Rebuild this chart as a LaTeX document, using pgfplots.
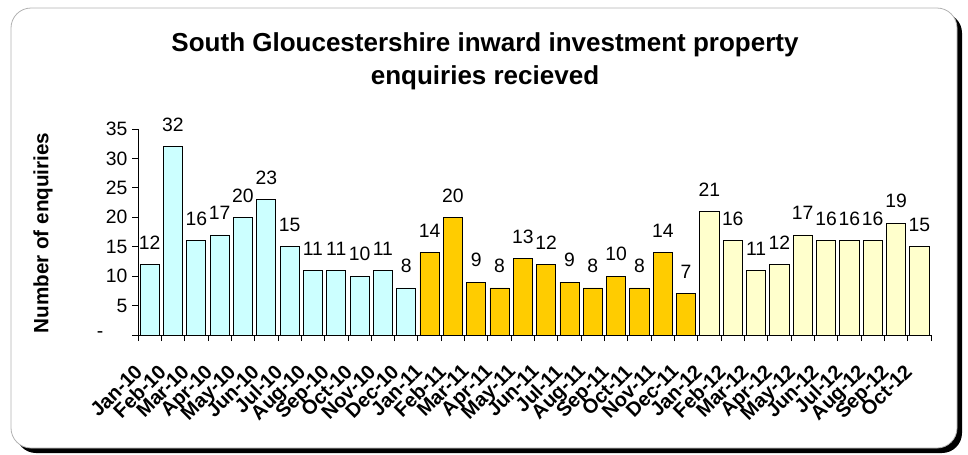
\documentclass[border=0pt]{standalone}
\usepackage{pgfplots}
\pgfplotsset{compat=1.18}
\usepackage{fontspec}
\setmainfont{Liberation Sans}
\definecolor{cyanbar}{HTML}{CCFFFF}
\definecolor{goldbar}{HTML}{FFCC00}
\definecolor{yelbar}{HTML}{FFFFCC}
\begin{document}
\begin{tikzpicture}
\path[use as bounding box] (0pt,0pt) rectangle (726pt,-340.5pt);
\fill[black, rounded corners=15pt] (12pt,-9.75pt) rectangle (721.5pt,-339.75pt);
\draw[gray!60, fill=white, rounded corners=15pt, line width=0.6pt] (8.25pt,-6pt) rectangle (717.75pt,-336pt);
\node[align=center, font=\fontsize{19.5}{24.75}\selectfont\bfseries] at (363.75pt,-46.125pt)
  {South Gloucestershire inward investment property\\enquiries recieved};
\node[rotate=90, font=\fontsize{15.5}{18}\selectfont\bfseries] at (32.25pt,-174.75pt) {Number of enquiries};
\begin{axis}[
  at={(103.5pt,-251.25pt)}, anchor=south west,
  scale only axis, width=594.75pt, height=154.5pt,
  xmin=-0.5, xmax=33.5, ymin=0, ymax=35,
  axis x line*=bottom, axis y line*=left,
  axis line style={black, line width=0.6pt},
  /pgf/number format/assume math mode=true,
  ytick={0,5,...,35},
  yticklabels={{-\hspace*{18pt}},5,10,15,20,25,30,35},
  yticklabel style={font=\fontsize{14.5}{16}\selectfont},
  tick align=outside,
  major tick length=4.5pt, minor tick length=4.5pt,
  tick style={black, line width=0.6pt},
  xtick={0,...,33},
  major x tick style={draw=none},
  minor xtick={-0.5,0.5,...,33.5},
  xticklabels={Jan-10,Feb-10,Mar-10,Apr-10,May-10,Jun-10,Jul-10,Aug-10,Sep-10,Oct-10,Nov-10,Dec-10,
    Jan-11,Feb-11,Mar-11,Apr-11,May-11,Jun-11,Jul-11,Aug-11,Sep-11,Oct-11,Nov-11,Dec-11,
    Jan-12,Feb-12,Mar-12,Apr-12,May-12,Jun-12,Jul-12,Aug-12,Sep-12,Oct-12},
  xticklabel style={xshift=-12pt, yshift=-15pt, font=\fontsize{15}{17}\selectfont\bfseries, rotate=45, anchor=north east, inner sep=1pt},
  ybar, bar width=0.82,
  nodes near coords,
  every node near coord/.append style={font=\fontsize{14.5}{16}\selectfont, anchor=south, inner sep=0pt, yshift=11pt},
  clip=false,
]
\addplot[bar shift=0pt, fill=cyanbar, draw=black, line width=0.6pt] coordinates {
(0,12) (1,32) (2,16) (3,17) (4,20) (5,23) (6,15) (7,11) (8,11) (9,10) (10,11) (11,8)};
\addplot[bar shift=0pt, fill=goldbar, draw=black, line width=0.6pt] coordinates {
(12,14) (13,20) (14,9) (15,8) (16,13) (17,12) (18,9) (19,8) (20,10) (21,8) (22,14) (23,7)};
\addplot[bar shift=0pt, fill=yelbar, draw=black, line width=0.6pt] coordinates {
(24,21) (25,16) (26,11) (27,12) (28,17) (29,16) (30,16) (31,16) (32,19) (33,15)};
\end{axis}
\end{tikzpicture}
\end{document}
